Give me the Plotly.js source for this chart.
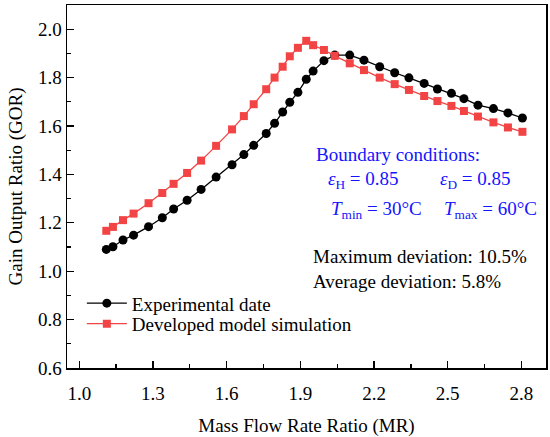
<!DOCTYPE html>
<html>
<head>
<meta charset="utf-8">
<script src="https://cdn.plot.ly/plotly-3.0.1.min.js"></script>
<style>html,body{margin:0;padding:0;background:#fff}#chart{width:550px;height:437px}</style>
</head>
<body>
<div id="chart"></div>
<script>
// Mass flow rate ratio (MR) values
var mr = [1.110, 1.137, 1.178, 1.221, 1.282, 1.338, 1.384, 1.439, 1.496, 1.557,
          1.622, 1.670, 1.710, 1.761, 1.795, 1.828, 1.857, 1.890, 1.924, 1.952,
          1.996, 2.040, 2.101, 2.159, 2.223, 2.284, 2.342, 2.404, 2.458, 2.515,
          2.566, 2.623, 2.686, 2.745, 2.804];
// Experimental GOR
var gorExp = [1.090, 1.101, 1.129, 1.149, 1.184, 1.221, 1.257, 1.293, 1.338, 1.389,
              1.440, 1.482, 1.520, 1.569, 1.611, 1.658, 1.698, 1.739, 1.793, 1.827,
              1.870, 1.893, 1.893, 1.872, 1.845, 1.820, 1.799, 1.776, 1.753, 1.735,
              1.713, 1.686, 1.672, 1.654, 1.633];
// Simulated GOR
var gorSim = [1.167, 1.183, 1.211, 1.238, 1.281, 1.323, 1.361, 1.406, 1.457, 1.518,
              1.586, 1.641, 1.690, 1.752, 1.800, 1.845, 1.888, 1.923, 1.952, 1.934,
              1.914, 1.890, 1.859, 1.831, 1.800, 1.773, 1.749, 1.724, 1.703, 1.683,
              1.662, 1.639, 1.615, 1.594, 1.576];
var seriesNames = ["Experimental date", "Developed model simulation"];
var xTicks = [1.0, 1.3, 1.6, 1.9, 2.2, 2.5, 2.8];
var xTickText = ["1.0", "1.3", "1.6", "1.9", "2.2", "2.5", "2.8"];
var yTicks = [0.6, 0.8, 1.0, 1.2, 1.4, 1.6, 1.8, 2.0];
var yTickText = ["0.6", "0.8", "1.0", "1.2", "1.4", "1.6", "1.8", "2.0"];

var FONT = "Liberation Serif";
var RED = "#F24444";
var BLUE = "#1414FF";

var traces = [
  {x: mr, y: gorExp, name: seriesNames[0], type: "scatter", mode: "lines+markers", legend: "legend",
   line: {color: "#000000", width: 1.3}, marker: {symbol: "circle", size: 9, color: "#000000"}},
  {x: mr, y: gorSim, name: seriesNames[1], type: "scatter", mode: "lines+markers", legend: "legend2",
   line: {color: RED, width: 1.3}, marker: {symbol: "square", size: 8, color: RED}}
];

function ann(text, x, y, color) {
  return {text: text, xref: "paper", yref: "paper", x: x, y: y, xanchor: "left", yanchor: "middle",
          showarrow: false, font: {family: FONT, size: 19, color: color}};
}
function leg(y) {
  return {x: 0.031, y: y, xanchor: "left", yanchor: "top", bgcolor: "rgba(0,0,0,0)", itemwidth: 40,
          font: {family: FONT, size: 19, color: "#000000"}};
}

var layout = {
  width: 550, height: 437,
  margin: {l: 67, r: 4, t: 5, b: 69},
  paper_bgcolor: "#ffffff", plot_bgcolor: "#ffffff",
  font: {family: FONT, size: 19, color: "#000000"},
  showlegend: true,
  legend: leg(0.2306),
  legend2: leg(0.174),
  xaxis: {
    range: [0.95, 2.9], tickmode: "array", tickvals: xTicks, ticktext: xTickText,
    ticks: "inside", ticklen: 7, tickwidth: 1.3, tickcolor: "#000", ticklabelstandoff: 8,
    minor: {dtick: 0.15, tick0: 1.0, ticks: "inside", ticklen: 4, tickwidth: 1.3, tickcolor: "#000", showgrid: false},
    showline: true, linecolor: "#000", linewidth: 1.5, mirror: true,
    showgrid: false, zeroline: false,
    tickfont: {family: FONT, size: 19, color: "#000"},
    title: {text: "Mass Flow Rate Ratio (MR)", font: {family: FONT, size: 19, color: "#000"}, standoff: 16}
  },
  yaxis: {
    range: [0.6, 2.1], tickmode: "array", tickvals: yTicks, ticktext: yTickText,
    ticks: "inside", ticklen: 7, tickwidth: 1.3, tickcolor: "#000",
    minor: {dtick: 0.1, tick0: 0.6, ticks: "inside", ticklen: 4, tickwidth: 1.3, tickcolor: "#000", showgrid: false},
    showline: true, linecolor: "#000", linewidth: 1.5, mirror: true,
    showgrid: false, zeroline: false,
    tickfont: {family: FONT, size: 19, color: "#000"},
    title: {text: "Gain Output Ratio (GOR)", font: {family: FONT, size: 19, color: "#000"}, standoff: 10}
  },
  annotations: [
    ann("Boundary conditions:", 0.516, 0.587, BLUE),
    ann("<i>ε</i><sub>H</sub> = 0.85", 0.541, 0.517, BLUE),
    ann("<i>ε</i><sub>D</sub> = 0.85", 0.775, 0.517, BLUE),
    ann("<i>T</i><sub>min</sub> = 30°C", 0.547, 0.436, BLUE),
    ann("<i>T</i><sub>max</sub> = 60°C", 0.782, 0.436, BLUE),
    ann("Maximum deviation: 10.5%", 0.510, 0.307, "#000"),
    ann("Average deviation: 5.8%", 0.510, 0.238, "#000")
  ]
};

Plotly.newPlot("chart", traces, layout, {displayModeBar: false, staticPlot: true});
</script>
</body>
</html>
